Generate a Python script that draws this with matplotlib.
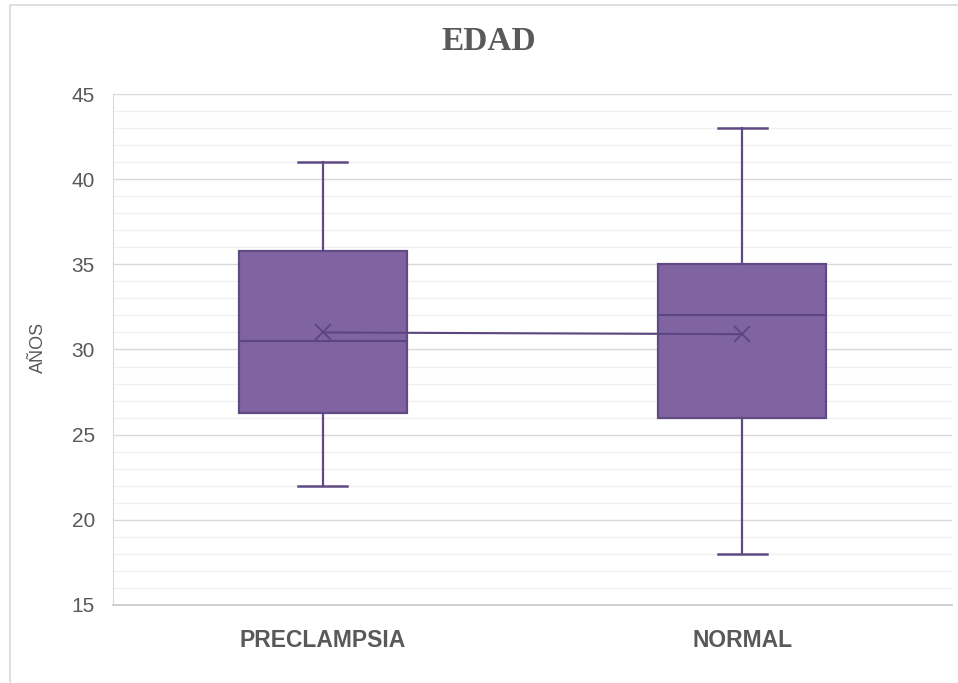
import matplotlib
matplotlib.use("Agg")
import matplotlib.pyplot as plt
from matplotlib.patches import Rectangle
from matplotlib.ticker import MultipleLocator

categories = ["PRECLAMPSIA", "NORMAL"]
whislo = [22, 18]
q1 = [26.25, 26]
med = [30.5, 32]
q3 = [35.8, 35]
whishi = [41, 43]
means = [31.0, 30.9]

title = "EDAD"
ylabel = "AÑOS"

fill = "#8064A2"
edge = "#5F4A84"
text_col = "#595959"

fig = plt.figure(figsize=(9.58, 6.83), dpi=100)
ax = fig.add_axes([113/958, 1-605/683, (952-113)/958, (605-94)/683])

stats = []
for i, c in enumerate(categories):
    stats.append(dict(label=c, whislo=whislo[i], q1=q1[i], med=med[i],
                      q3=q3[i], whishi=whishi[i], mean=means[i], fliers=[]))

pos = list(range(len(categories)))
ax.bxp(stats, positions=pos, widths=0.40, patch_artist=True, showmeans=True,
       capwidths=0.117,
       boxprops=dict(facecolor=fill, edgecolor=edge, linewidth=1.6),
       whiskerprops=dict(color=edge, linewidth=1.6),
       capprops=dict(color=edge, linewidth=1.8),
       medianprops=dict(color="#5B4680", linewidth=1.5),
       meanprops=dict(marker="x", markeredgecolor="#5B4680", markersize=11,
                      markeredgewidth=1.3), zorder=3)
ax.plot(pos, means, color="#5B4680", linewidth=1.5, zorder=4)

ax.set_xlim(-0.5, 1.5)
ax.set_ylim(15, 45)
ax.yaxis.set_major_locator(MultipleLocator(5))
ax.yaxis.set_minor_locator(MultipleLocator(1))
ax.grid(which="major", axis="y", color="#D9D9D9", linewidth=1.0, zorder=0)
ax.grid(which="minor", axis="y", color="#F0F0F0", linewidth=1.0, zorder=0)
ax.set_axisbelow(True)

for s in ["top", "right"]:
    ax.spines[s].set_visible(False)
ax.spines["left"].set_color("#D9D9D9")
ax.spines["bottom"].set_color("#C8C8C8")
ax.spines["bottom"].set_linewidth(1.2)

ax.tick_params(axis="y", which="both", length=0, pad=13, labelsize=15,
               labelcolor=text_col)
ax.tick_params(axis="x", length=0, pad=17, labelcolor=text_col)
for lab in ax.get_yticklabels():
    lab.set_family("Liberation Sans")
ax.set_xticks(pos)
ax.set_xticklabels(categories, fontsize=16.5, fontweight="bold",
                   family="Liberation Sans", color=text_col)

ax.set_ylabel(ylabel, fontsize=13, color=text_col, family="Liberation Sans",
              va="center")
ax.yaxis.set_label_coords(38/958, 1-347/683, transform=fig.transFigure)

fig.text(489/958, 1-41/683, title, ha="center", va="center", fontsize=24,
         fontweight="bold", family="Liberation Serif", color=text_col)

fig.patches.append(Rectangle((10/958, -0.1), 1.2, 1.1 - 5/683,
                             transform=fig.transFigure, fill=False,
                             edgecolor="#D9D9D9", linewidth=1.2))

fig.savefig("out.png", dpi=100, facecolor="white")
